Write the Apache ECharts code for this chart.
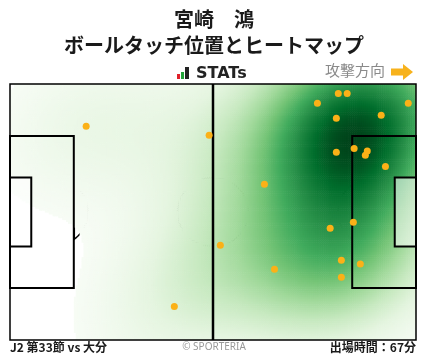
<!DOCTYPE html>
<html>
<head>
<meta charset="utf-8">
<script src="https://cdn.jsdelivr.net/npm/echarts@6/dist/echarts.min.js"></script>
<style>
html,body{margin:0;padding:0;background:#fff;}
#c{width:428px;height:359px;}
</style>
</head>
<body>
<div id="c"></div>
<script>
// ---- Data (pitch metres: x 0..105 toward attacking goal, y 0..68 from top) ----
const touchX = [79.5, 84.9, 87.2, 103.0, 96.0, 84.4, 19.7, 51.5, 89.0, 84.4, 92.4, 91.9, 97.1, 65.8, 54.4, 88.8, 82.8, 85.7, 90.6, 68.4, 85.7, 42.5];
const touchY = [5.1, 2.5, 2.5, 5.1, 8.3, 9.1, 11.2, 13.6, 17.1, 18.1, 17.8, 18.9, 21.9, 26.6, 42.8, 36.7, 38.3, 46.8, 47.8, 49.2, 51.3, 59.1];
const titleText = '宮崎\u3000鴻';
const subtitleText = 'ボールタッチ位置とヒートマップ';
const footerLeft = 'J2 第33節 vs 大分';
const footerRight = '出場時間：67分';
const creditText = '© SPORTERIA';
const directionText = '攻撃方向';

const PITCH_L = 105, PITCH_W = 68;

// ---- Gaussian KDE computed from the touch points ----
const BW_ADJUST = 1.3;
const n = touchX.length;
const mx = touchX.reduce((a, b) => a + b, 0) / n;
const my = touchY.reduce((a, b) => a + b, 0) / n;
let sxx = 0, syy = 0, sxy = 0;
for (let i = 0; i < n; i++) {
  const dx = touchX[i] - mx, dy = touchY[i] - my;
  sxx += dx * dx; syy += dy * dy; sxy += dx * dy;
}
sxx /= (n - 1); syy /= (n - 1); sxy /= (n - 1);
const f2 = Math.pow(n, -2 / 6) * BW_ADJUST * BW_ADJUST;
const cxx = sxx * f2, cyy = syy * f2, cxy = sxy * f2;
const det = cxx * cyy - cxy * cxy;
const ixx = cyy / det, iyy = cxx / det, ixy = -cxy / det;
function dens(x, y) {
  let s = 0;
  for (let i = 0; i < n; i++) {
    const dx = x - touchX[i], dy = y - touchY[i];
    s += Math.exp(-0.5 * (ixx * dx * dx + 2 * ixy * dx * dy + iyy * dy * dy));
  }
  return s;
}
const CELL = 0.5;
const cells = [];
let dmax = 0;
for (let x = CELL / 2; x < PITCH_L; x += CELL) {
  for (let y = CELL / 2; y < PITCH_W; y += CELL) {
    const d = dens(x, y);
    if (d > dmax) dmax = d;
    cells.push([x, y, d]);
  }
}
const THR = 0.03;
const heatData = [];
cells.forEach(c => {
  const t = c[2] / dmax;
  if (t >= THR) heatData.push([c[0], c[1], (t - THR) / (1 - THR)]);
});

const greens = ['#f7fcf5', '#e5f5e0', '#c7e9c0', '#a1d99b', '#74c476', '#41ab5d', '#238b45', '#006d2c', '#00441b'];
const greensRgb = greens.map(h => [parseInt(h.substr(1, 2), 16), parseInt(h.substr(3, 2), 16), parseInt(h.substr(5, 2), 16)]);
function greenColor(t) {
  t = Math.max(0, Math.min(1, t));
  const p = t * (greensRgb.length - 1);
  const i = Math.min(greensRgb.length - 2, Math.floor(p));
  const f = p - i;
  const a = greensRgb[i], b = greensRgb[i + 1];
  return 'rgb(' + Math.round(a[0] + (b[0] - a[0]) * f) + ',' + Math.round(a[1] + (b[1] - a[1]) * f) + ',' + Math.round(a[2] + (b[2] - a[2]) * f) + ')';
}

const chart = echarts.init(document.getElementById('c'), null, { renderer: 'canvas' });

const LINE = '#000';
function rectFrom(api, x0, y0, x1, y1, style) {
  const a = api.coord([x0, y0]), b = api.coord([x1, y1]);
  return { type: 'rect', shape: { x: Math.min(a[0], b[0]), y: Math.min(a[1], b[1]), width: Math.abs(b[0] - a[0]), height: Math.abs(b[1] - a[1]) }, style: style };
}
function arcPoints(api, cx, cy, r, filterFn) {
  const pts = [];
  for (let k = 0; k <= 180; k++) {
    const th = (k / 180) * Math.PI * 2;
    const x = cx + r * Math.cos(th), y = cy + r * Math.sin(th);
    if (!filterFn || filterFn(x, y)) pts.push(api.coord([x, y]));
  }
  return pts;
}

const option = {
  animation: false,
  grid: { left: 10, top: 84, width: 406, height: 256, containLabel: false },
  xAxis: { type: 'value', min: 0, max: PITCH_L, show: false },
  yAxis: { type: 'value', min: 0, max: PITCH_W, inverse: true, show: false },
  graphic: [
    { type: 'text', left: 'center', top: 9, style: { text: titleText, font: 'bold 20px "Noto Sans CJK JP"', fill: '#1a1a1a' } },
    { type: 'text', left: 'center', top: 35, style: { text: subtitleText, font: 'bold 20px "Noto Sans CJK JP"', fill: '#1a1a1a' } },
    // STATs logo bars
    { type: 'rect', shape: { x: 177, y: 74, width: 3, height: 5 }, style: { fill: '#e0202a' } },
    { type: 'rect', shape: { x: 181, y: 72, width: 3, height: 7 }, style: { fill: '#22a33a' } },
    { type: 'rect', shape: { x: 185, y: 67, width: 4, height: 12 }, style: { fill: '#222' } },
    { type: 'text', left: 196, top: 66, style: { text: 'STATs', font: 'bold 16px "DejaVu Sans"', fill: '#222' } },
    { type: 'text', left: 325, top: 63, style: { text: directionText, font: '15px "Noto Sans CJK JP"', fill: '#8a8a8a' } },
    { type: 'polygon', shape: { points: [[391, 68.5], [403, 68.5], [403, 64], [413, 72], [403, 80], [403, 75.5], [391, 75.5]] }, style: { fill: '#f7b21c' } },
    { type: 'text', left: 10, top: 341, style: { text: footerLeft, font: 'bold 12px "Noto Sans CJK JP"', fill: '#1a1a1a' } },
    { type: 'text', left: 'center', top: 342, style: { text: creditText, font: '10px "Noto Sans"', fill: '#999' } },
    { type: 'text', right: 12, top: 341, style: { text: footerRight, font: 'bold 12px "Noto Sans CJK JP"', fill: '#1a1a1a' } }
  ],
  series: [
    {
      type: 'custom', z: 1, silent: true, data: [[0, 0]],
      renderItem: function (params, api) {
        const st = { stroke: LINE, lineWidth: 1.5, fill: null };
        return {
          type: 'group', children: [
            { type: 'polyline', shape: { points: arcPoints(api, 11, 34, 9.15, (x) => x >= 16.5) }, style: st },
            { type: 'polyline', shape: { points: arcPoints(api, 94, 34, 9.15, (x) => x <= 88.5) }, style: st },
            { type: 'polyline', shape: { points: arcPoints(api, 52.5, 34, 9.15) }, style: st }
          ]
        };
      }
    },
    {
      type: 'custom', z: 2, silent: true, clip: true, progressive: 0,
      data: heatData,
      renderItem: function (params, api) {
        const x = api.value(0), y = api.value(1), t = api.value(2);
        const a = api.coord([x - CELL / 2, y - CELL / 2]);
        const b = api.coord([x + CELL / 2, y + CELL / 2]);
        return {
          type: 'rect',
          shape: { x: Math.min(a[0], b[0]), y: Math.min(a[1], b[1]), width: Math.abs(b[0] - a[0]) + 0.6, height: Math.abs(b[1] - a[1]) + 0.6 },
          style: { fill: greenColor(t) }
        };
      }
    },
    {
      type: 'custom', z: 3, silent: true, data: [[0, 0]],
      renderItem: function (params, api) {
        const st = { stroke: LINE, lineWidth: 2, fill: null };
        const ga = { stroke: LINE, lineWidth: 2, fill: 'rgba(255,255,255,0.55)' };
        const m1 = api.coord([52.5, 0]), m2 = api.coord([52.5, PITCH_W]);
        return {
          type: 'group', children: [
            rectFrom(api, 0, 34 - 20.16, 16.5, 34 + 20.16, st),
            rectFrom(api, 0, 34 - 9.16, 5.5, 34 + 9.16, ga),
            rectFrom(api, PITCH_L - 16.5, 34 - 20.16, PITCH_L, 34 + 20.16, st),
            rectFrom(api, PITCH_L - 5.5, 34 - 9.16, PITCH_L, 34 + 9.16, ga),
            { type: 'line', shape: { x1: m1[0], y1: m1[1], x2: m2[0], y2: m2[1] }, style: { stroke: LINE, lineWidth: 2.5 } },
            rectFrom(api, 0, 0, PITCH_L, PITCH_W, { stroke: LINE, lineWidth: 1.5, fill: null })
          ]
        };
      }
    },
    {
      type: 'scatter', z: 4, silent: true,
      symbolSize: 7,
      itemStyle: { color: '#fbb117', opacity: 1 },
      data: touchX.map((x, i) => [x, touchY[i]])
    }
  ]
};
chart.setOption(option);
</script>
</body>
</html>
